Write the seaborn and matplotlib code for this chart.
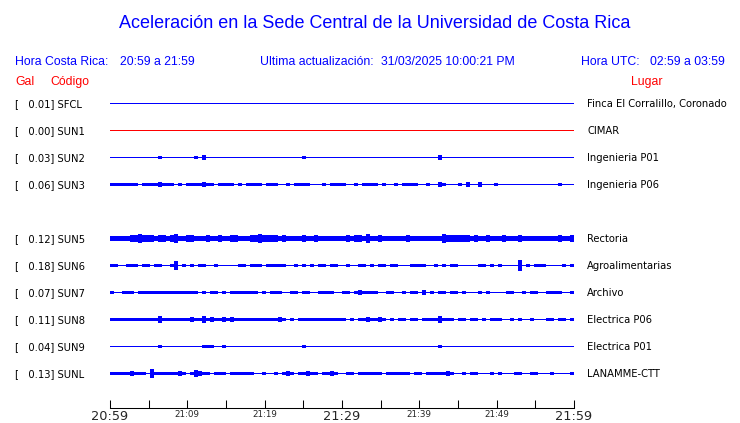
import numpy as np
import pandas as pd
import matplotlib
matplotlib.use("Agg")
import matplotlib.pyplot as plt
import seaborn as sns

# ---------------- data ----------------
codes = ["SFCL", "SUN1", "SUN2", "SUN3", "SUN5", "SUN6", "SUN7", "SUN8", "SUN9", "SUNL"]
gal = ["0.01", "0.00", "0.03", "0.06", "0.12", "0.18", "0.07", "0.11", "0.04", "0.13"]
places = ["Finca El Corralillo, Coronado", "CIMAR", "Ingenieria P01", "Ingenieria P06",
          "Rectoria", "Agroalimentarias", "Archivo", "Electrica P06", "Electrica P01",
          "LANAMME-CTT"]
rows = [0, 1, 2, 3, 5, 6, 7, 8, 9, 10]   # SUN4 slot is empty
trace_colors = ["blue", "red", "blue", "blue", "blue", "blue", "blue", "blue", "blue", "blue"]

# half-height of each trace (pixels) in 116 slices of ~31 s, 20:59 -> 21:59
traces = {
    "SFCL": "0" * 116,
    "SUN1": "0" * 116,
    "SUN2": ("0000000000" "0010000000" "0102000000" "0000000000" "0000000010" "0000000000"
             "0000000000" "0000000000" "0020000000" "0000000000" "0000000000" "000000"),
    "SUN3": ("1111111011" "1121110101" "1112110111" "1010111101" "1100101111" "0001011110"
             "0101111010" "0101111001" "0021000102" "0020001000" "0000000000" "001000"),
    "SUN5": ("2222233433" "3233234223" "3222322322" "3322233433" "3323222232" "2322222223"
             "2332422322" "2222322222" "2224333333" "2322322232" "2232222222" "223223"),
    "SUN6": ("1100111011" "0110014010" "1011001000" "0011011101" "1111001010" "1011011001"
             "0011010110" "1100011110" "0101011000" "0011010100" "0050101110" "000101"),
    "SUN7": ("1001110111" "1111111111" "1101011010" "1111111010" "1110011011" "0011110011"
             "0121111001" "1001011020" "1011011010" "0010100001" "1001011001" "111001"),
    "SUN8": ("1111111111" "1131111111" "2113121121" "2111111111" "1121010111" "1111111110"
             "1011211210" "1011011011" "1131110110" "1101011100" "1010010001" "101101"),
    "SUN9": ("0000000000" "0010000000" "0001110010" "0000000000" "0000000010" "0000000000"
             "0000000000" "0000000000" "0010000000" "0000000000" "0000000000" "000000"),
    "SUNL": ("1111121110" "4111111210" "1321101110" "1111110010" "0101210112" "1101121001"
             "1011111101" "1111101101" "1111210010" "1100010100" "0110011000" "100001"),
}

tick_minutes = list(range(0, 61, 5))
tick_text = ["20:59", "", "21:09", "", "21:19", "", "21:29", "", "21:39", "", "21:49", "", "21:59"]
big_ticks = ["20:59", "21:29", "21:59"]

# ---------------- figure ----------------
sns.set_style("white")
W, H = 740, 423
fig = plt.figure(figsize=(W / 100, H / 100), dpi=100)

def px(x, y):
    return x / W, 1 - y / H

# axes in pixel units: x 110..574, y 90..408 (y data == pixel row)
ax = fig.add_axes([110 / W, (H - 408) / H, (574 - 110) / W, (408 - 90) / H])

# centre each trace on a pixel centre so the unsmoothed fills stay crisp
row_y = [103.5 + 27 * r for r in rows]

base = pd.DataFrame({
    "minute": [0, 60] * len(codes),
    "y": [y for y in row_y for _ in range(2)],
    "code": [c for c in codes for _ in range(2)],
})
sns.lineplot(data=base, x="minute", y="y", hue="code", palette=dict(zip(codes, trace_colors)),
             legend=False, linewidth=0.72, antialiased=False, ax=ax)
for ln in ax.lines:
    ln.set_linewidth(0.72)

edges = np.linspace(0, 60, 117)
for code, y, col in zip(codes, row_y, trace_colors):
    amp = np.array([int(c) for c in traces[code]], dtype=float)
    if amp.max() == 0:
        continue
    amp = np.append(amp, amp[-1]) + 0.5
    ax.fill_between(edges, y - amp, y + amp, step="post", color=col,
                    lw=0, antialiased=False)

ax.set_xlim(0, 60)
ax.set_ylim(408, 90)
ax.set_xlabel("")
ax.set_ylabel("")
ax.set_yticks([])
for s in ["top", "left", "right"]:
    ax.spines[s].set_visible(False)
ax.spines["bottom"].set_color("black")
ax.spines["bottom"].set_linewidth(0.75)
ax.set_xticks(tick_minutes)
ax.set_xticklabels(tick_text, family="DejaVu Sans")
ax.tick_params(axis="x", direction="in", length=5.8, width=0.75, color="black", pad=1.2, bottom=True)
for lab in ax.get_xticklabels():
    lab.set_fontsize(9.3 if lab.get_text() in big_ticks else 6.3)
ax.patch.set_alpha(0)

# ---------------- texts ----------------
blue = "#0000FF"
red = "#FF0000"
fig.text(*px(375, 28), "Aceleración en la Sede Central de la Universidad de Costa Rica",
         ha="center", va="baseline", color=blue, fontsize=12.95, family="Liberation Sans")

hdr = dict(va="baseline", color=blue, fontsize=8.8, family="Liberation Sans")
fig.text(*px(15, 65), "Hora Costa Rica:", **hdr)
fig.text(*px(120, 65), "20:59 a 21:59", **hdr)
fig.text(*px(260, 65), "Ultima actualización:", **hdr)
fig.text(*px(381, 65), "31/03/2025 10:00:21 PM", **hdr)
fig.text(*px(581, 65), "Hora UTC:", **hdr)
fig.text(*px(650, 65), "02:59 a 03:59", **hdr)

sub = dict(va="baseline", color=red, fontsize=8.8, family="Liberation Sans")
fig.text(*px(15, 85), "Gal", **sub)
fig.text(*px(50, 85), "Código", **sub)
fig.text(*px(631, 85), "Lugar", **sub)

for g, code, place, y in zip(gal, codes, places, row_y):
    fig.text(*px(15, y + 3.6), f"[   {g}] {code}", va="baseline", color="black",
             fontsize=7.2, family="DejaVu Sans")
    fig.text(*px(587, y + 3.6), place, va="baseline", color="black",
             fontsize=7.2, family="DejaVu Sans")

fig.savefig("out.png", dpi=100, facecolor="white")
